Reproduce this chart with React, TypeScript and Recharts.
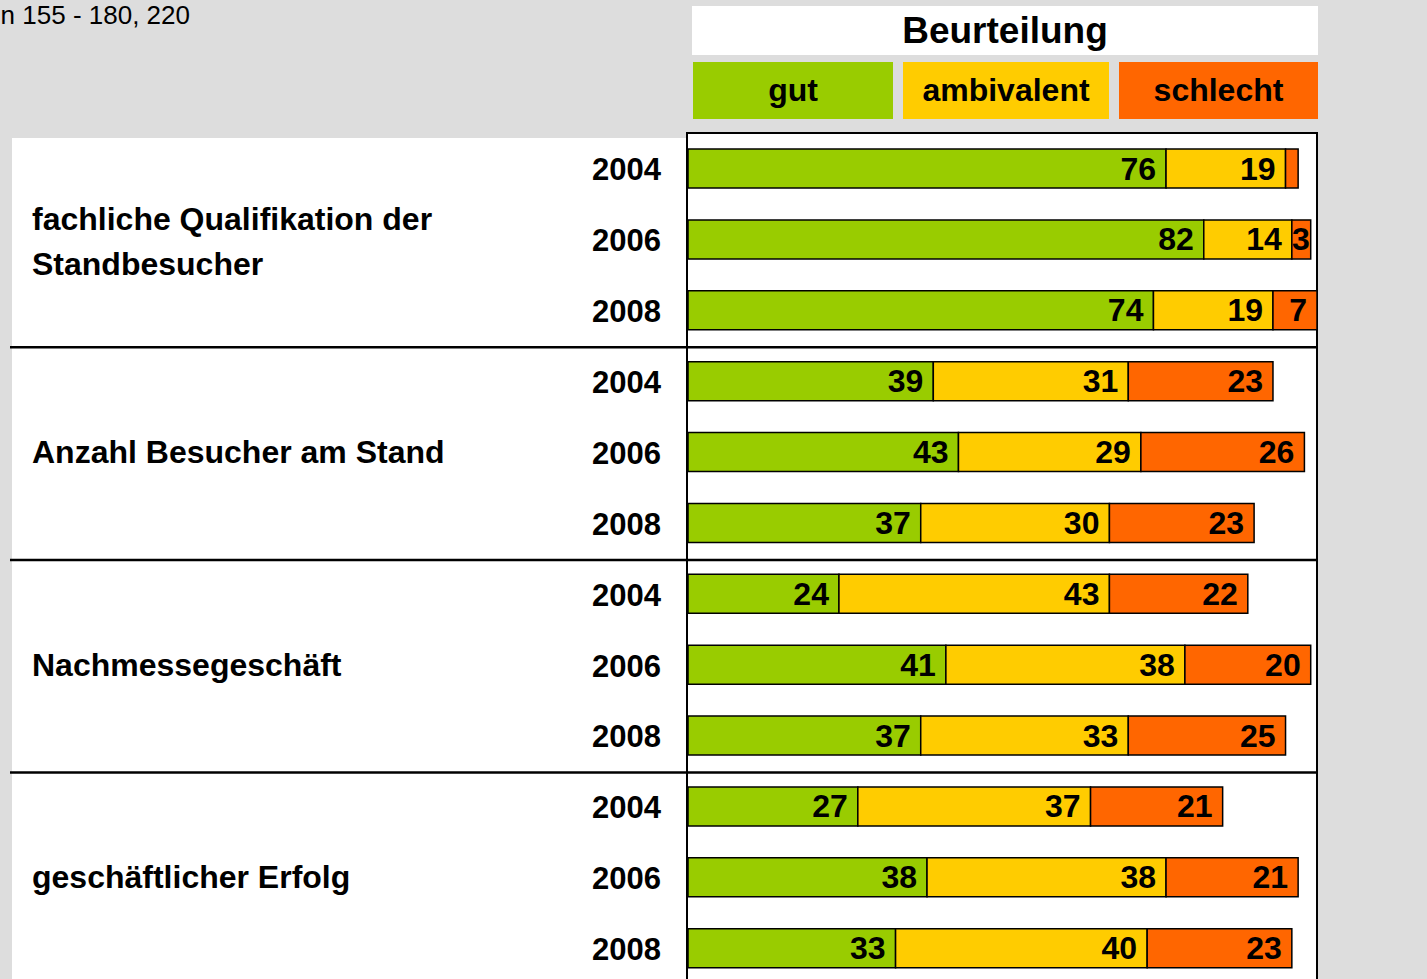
import React from "react";
import { BarChart, Bar, XAxis, YAxis, LabelList } from "recharts";

const categories: string[][] = [
  ["fachliche Qualifikation der", "Standbesucher"],
  ["Anzahl Besucher am Stand"],
  ["Nachmessegeschäft"],
  ["geschäftlicher Erfolg"],
];
const years = ["2004", "2006", "2008"];
const gut = [76, 82, 74, 39, 43, 37, 24, 41, 37, 27, 38, 33];
const ambivalent = [19, 14, 19, 31, 29, 30, 43, 38, 33, 37, 38, 40];
const schlecht = [2, 3, 7, 23, 26, 23, 22, 20, 25, 21, 21, 23];
const seriesKeys = ["gut", "ambivalent", "schlecht"];
const seriesColors = ["#99CC00", "#FFCC00", "#FF6600"];
const legendTitle = "Beurteilung";
const subtitle = "n 155 - 180, 220";

const data = gut.map((g, i) => ({
  id: String(i),
  year: years[i % years.length],
  group: Math.floor(i / years.length),
  gut: g,
  ambivalent: ambivalent[i],
  schlecht: schlecht[i],
}));

const FONT = "'Liberation Sans', Arial, Helvetica, sans-serif";
const CHART_W = 1427;
const CHART_H = 1000;
const MARGIN = { top: 133, right: 110, bottom: 16.5, left: 0 };
const AXIS_W = 688;
const PLOT_H = CHART_H - MARGIN.top - MARGIN.bottom;
const PLOT_RIGHT = CHART_W - MARGIN.right;

const BarLabel = (props: any) => {
  const { x, y, width, height, value } = props;
  if (value == null || Number(value) < 3) return null;
  const off = width < 30 ? 1 : 10;
  return (
    <text
      x={x + width - off}
      y={y + height / 2 + 11}
      textAnchor="end"
      fontSize={32}
      fontWeight="bold"
      fontFamily={FONT}
      fill="#000"
    >
      {value}
    </text>
  );
};

const RowTick = (props: any) => {
  const { y, payload } = props;
  const i = Number(payload.value);
  const d = data[i];
  const band = PLOT_H / data.length;
  const n = years.length;
  const lines = categories[d.group];
  const start = -(lines.length - 1) * 20;
  return (
    <g>
      <text
        x={661}
        y={y + 12}
        textAnchor="end"
        fontSize={31}
        fontWeight="bold"
        fontFamily={FONT}
        fill="#000"
      >
        {d.year}
      </text>
      {i % n === 1 &&
        lines.map((ln, k) => (
          <text
            key={k}
            x={32}
            y={y + start + k * 45 + 11}
            textAnchor="start"
            fontSize={32}
            fontWeight="bold"
            fontFamily={FONT}
            fill="#000"
          >
            {ln}
          </text>
        ))}
      {i % n === 0 && i > 0 && (
        <line
          x1={10}
          x2={PLOT_RIGHT}
          y1={y - band / 2 + 1.7}
          y2={y - band / 2 + 1.7}
          stroke="#000"
          strokeWidth={2.5}
        />
      )}
    </g>
  );
};

export default function App() {
  return (
    <div
      style={{
        position: "absolute",
        left: 0,
        top: 0,
        width: 1427,
        height: 979,
        overflow: "hidden",
        background: "#DDDDDD",
        fontFamily: FONT,
      }}
    >
      <div
        style={{
          position: "absolute",
          left: -100,
          top: 0,
          width: 290,
          textAlign: "right",
          fontSize: 26,
          lineHeight: "30px",
          color: "#000",
        }}
      >
        {subtitle}
      </div>
      <div
        style={{
          position: "absolute",
          left: 692,
          top: 6,
          width: 626,
          height: 49,
          background: "#fff",
          display: "flex",
          alignItems: "center",
          justifyContent: "center",
          fontSize: 37,
          fontWeight: "bold",
          color: "#000",
        }}
      >
        {legendTitle}
      </div>
      {seriesKeys.map((k, i) => {
        const lefts = [693, 903, 1119];
        const widths = [200, 206, 199];
        return (
          <div
            key={k}
            style={{
              position: "absolute",
              left: lefts[i],
              top: 62,
              width: widths[i],
              height: 57,
              background: seriesColors[i],
              display: "flex",
              alignItems: "center",
              justifyContent: "center",
              fontSize: 32,
              fontWeight: "bold",
              color: "#000",
            }}
          >
            {k}
          </div>
        );
      })}
      <div
        style={{
          position: "absolute",
          left: 12,
          top: 138,
          width: 676,
          height: 900,
          background: "#fff",
        }}
      />
      <div
        style={{
          position: "absolute",
          left: 686,
          top: 132,
          width: 632,
          height: 900,
          background: "#fff",
          border: "2px solid #000",
          boxSizing: "border-box",
        }}
      />
      <div style={{ position: "absolute", left: 0, top: 0 }}>
        <BarChart
          layout="vertical"
          width={CHART_W}
          height={CHART_H}
          data={data}
          margin={MARGIN}
          barSize={39}
        >
          <XAxis type="number" domain={[0, 100]} hide />
          <YAxis
            type="category"
            dataKey="id"
            width={AXIS_W}
            axisLine={false}
            tickLine={false}
            interval={0}
            tick={<RowTick />}
          />
          {seriesKeys.map((k, i) => (
            <Bar
              key={k}
              dataKey={k}
              stackId="a"
              fill={seriesColors[i]}
              stroke="#000"
              strokeWidth={1.5}
              isAnimationActive={false}
            >
              <LabelList dataKey={k} content={<BarLabel />} />
            </Bar>
          ))}
        </BarChart>
      </div>
    </div>
  );
}
